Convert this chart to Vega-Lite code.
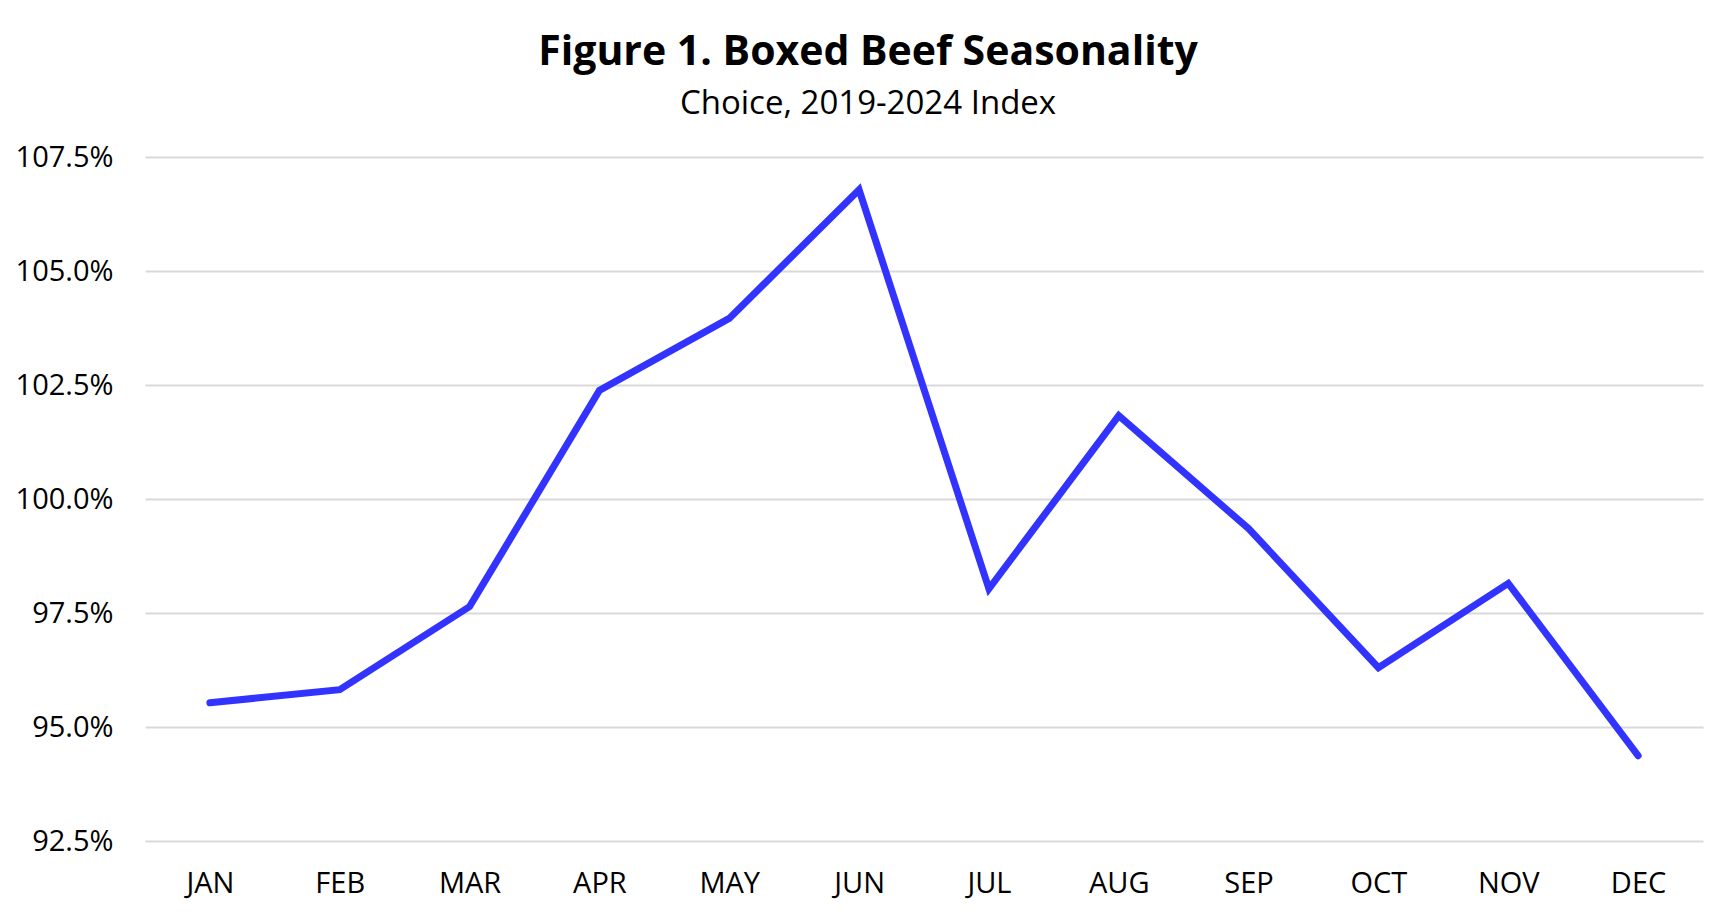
{
  "$schema": "https://vega.github.io/schema/vega-lite/v6.json",
  "width": 1558,
  "height": 684,
  "padding": {"left": 0, "top": 32, "right": 22, "bottom": 20},
  "background": "white",
  "title": {
    "text": "Figure 1. Boxed Beef Seasonality",
    "subtitle": "Choice, 2019-2024 Index",
    "anchor": "middle",
    "frame": "group",
    "dx": -56,
    "font": "Open Sans",
    "fontSize": 41,
    "fontWeight": "bold",
    "color": "black",
    "subtitleFont": "Open Sans",
    "subtitleFontSize": 33,
    "subtitleColor": "black",
    "subtitlePadding": 14,
    "offset": 21
  },
  "data": {
    "values": [
      {"Month": "JAN", "Index": 95.53},
      {"Month": "FEB", "Index": 95.82},
      {"Month": "MAR", "Index": 97.64},
      {"Month": "APR", "Index": 102.38},
      {"Month": "MAY", "Index": 103.96},
      {"Month": "JUN", "Index": 106.78},
      {"Month": "JUL", "Index": 98.03},
      {"Month": "AUG", "Index": 101.83},
      {"Month": "SEP", "Index": 99.35},
      {"Month": "OCT", "Index": 96.30},
      {"Month": "NOV", "Index": 98.15},
      {"Month": "DEC", "Index": 94.37}
    ]
  },
  "mark": {"type": "line", "color": "#3333FF", "strokeWidth": 7, "strokeCap": "round", "strokeJoin": "miter"},
  "encoding": {
    "x": {
      "field": "Month",
      "type": "ordinal",
      "sort": null,
      "scale": {"type": "point", "padding": 0.5},
      "axis": {
        "title": null,
        "labelAngle": 0,
        "ticks": false,
        "domain": false,
        "grid": false,
        "labelFont": "Open Sans",
        "labelFontSize": 29,
        "labelColor": "black",
        "labelPadding": 28
      }
    },
    "y": {
      "field": "Index",
      "type": "quantitative",
      "scale": {"domain": [92.5, 107.5], "nice": false, "zero": false},
      "axis": {
        "title": null,
        "values": [92.5, 95, 97.5, 100, 102.5, 105, 107.5],
        "labelExpr": "format(datum.value, '.1f') + '%'",
        "ticks": false,
        "domain": false,
        "grid": true,
        "gridColor": "#D9D9D9",
        "gridWidth": 2,
        "labelFont": "Open Sans",
        "labelFontSize": 29,
        "labelColor": "black",
        "labelPadding": 32,
        "minExtent": 145,
        "maxExtent": 145
      }
    }
  },
  "config": {"view": {"stroke": null}}
}
